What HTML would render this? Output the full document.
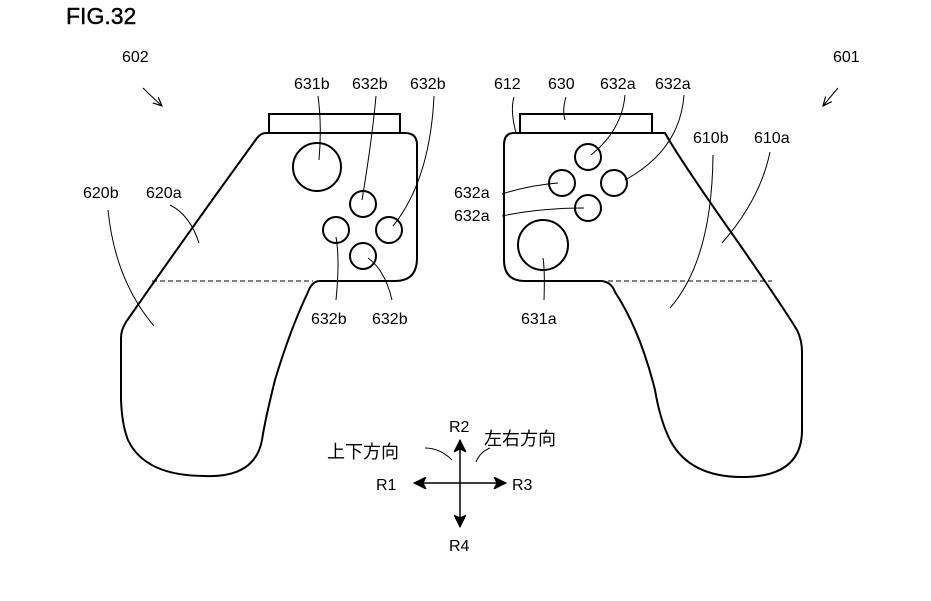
<!DOCTYPE html>
<html><head><meta charset="utf-8"><style>
body{margin:0;background:#fff;width:931px;height:596px;overflow:hidden}
svg text{font-family:"Liberation Sans","Noto Sans CJK JP",sans-serif;fill:#000}
</style></head><body>
<svg width="931" height="596" viewBox="0 0 931 596" xmlns="http://www.w3.org/2000/svg">
<defs><marker id="a" markerWidth="10" markerHeight="10" refX="9" refY="5" orient="auto" markerUnits="userSpaceOnUse"><path d="M0,1 L9,5 L0,9" fill="none" stroke="#000" stroke-width="1.2"/></marker>
<marker id="h" markerWidth="16" markerHeight="12" refX="14" refY="6" orient="auto" markerUnits="userSpaceOnUse"><path d="M0,6 L14,6 M14,6 L2,0 L5,6 L2,12 Z" fill="#000" stroke="#000" stroke-width="1"/></marker></defs>
<text x="66" y="24" font-size="23" stroke="#000" stroke-width="0.4">FIG.32</text>
<g fill="none" stroke="#000" stroke-width="2">
<path d="M269,133 V114 H400 V133"/>
<path d="M266,133 H405 Q417,133 417,145 V258 Q417,281 395,281 H320 Q312,281 308,292 Q290,330 275,380 Q265,420 262,440 Q255,478 205,476 Q145,476 128,440 Q122,425 121,400 V338 Q121,330 126,322 Q190,230 257,138 Q261,133 266,133 Z"/>
<circle cx="317" cy="167" r="24"/>
<circle cx="363" cy="204" r="13"/><circle cx="336" cy="230" r="13"/><circle cx="389" cy="230" r="13"/><circle cx="363" cy="256" r="13"/>
<path d="M520,133 V114 H652 V133"/>
<path d="M514,133 H665 Q680,160 740,245 Q785,310 797,330 Q802,340 802,352 V430 Q802,476 745,477 Q690,478 670,440 Q660,420 655,390 Q640,330 615,292 Q611,281 600,281 H525 Q504,281 504,260 V145 Q504,133 514,133 Z"/>
<circle cx="588" cy="157" r="13"/><circle cx="562" cy="183" r="13"/><circle cx="614" cy="183" r="13"/><circle cx="588" cy="208" r="13"/>
<circle cx="543" cy="245" r="25"/>
</g>
<g stroke="#000" stroke-width="1" stroke-dasharray="5,3"><line x1="152" y1="281" x2="313" y2="281"/><line x1="608" y1="281" x2="772" y2="281"/></g>
<g fill="none" stroke="#000" stroke-width="1">
<path d="M143,88 Q150,95 162,106" marker-end="url(#a)"/>
<path d="M838,88 Q832,95 823,106" marker-end="url(#a)"/>
<path d="M318,96 Q322,125 319,160"/>
<path d="M376,96 Q372,140 362,200"/>
<path d="M434,96 Q430,180 393,226"/>
<path d="M336,237 Q340,260 336,300"/>
<path d="M368,258 Q385,270 392,300"/>
<path d="M170,205 Q190,215 199,243"/>
<path d="M108,210 Q115,280 154,326"/>
<path d="M514,97 Q510,110 516,133"/>
<path d="M566,97 Q562,110 565,120"/>
<path d="M625,95 Q622,130 591,155"/>
<path d="M684,95 Q680,150 625,180"/>
<path d="M502,194 Q530,185 558,183"/>
<path d="M502,216 Q540,208 584,208"/>
<path d="M543,258 Q545,270 544,300"/>
<path d="M713,155 Q712,260 670,308"/>
<path d="M770,152 Q760,200 722,243"/>
<path d="M425,448 Q440,448 452,460"/>
<path d="M490,448 Q480,452 476,462"/>
</g>
<g font-size="16">
<text x="122" y="62">602</text><text x="833" y="62">601</text>
<text x="294" y="89">631b</text><text x="352" y="89">632b</text><text x="410" y="89">632b</text>
<text x="83" y="198">620b</text><text x="146" y="198">620a</text>
<text x="311" y="324">632b</text><text x="372" y="324">632b</text>
<text x="494" y="89">612</text><text x="548" y="89">630</text><text x="600" y="89">632a</text><text x="655" y="89">632a</text>
<text x="693" y="143">610b</text><text x="754" y="143">610a</text>
<text x="454" y="198">632a</text><text x="454" y="221">632a</text>
<text x="521" y="324">631a</text>
<text x="449" y="432">R2</text><text x="376" y="490">R1</text><text x="512" y="490">R3</text><text x="449" y="551">R4</text>
</g>
<g font-size="18"><text x="327" y="458">上下方向</text><text x="484" y="445">左右方向</text></g>
<g stroke="#000" stroke-width="1.5" fill="none">
<line x1="460" y1="483" x2="460" y2="440" marker-end="url(#h)"/>
<line x1="460" y1="483" x2="460" y2="527" marker-end="url(#h)"/>
<line x1="460" y1="483" x2="414" y2="483" marker-end="url(#h)"/>
<line x1="460" y1="483" x2="506" y2="483" marker-end="url(#h)"/>
</g>
</svg>
</body></html>
